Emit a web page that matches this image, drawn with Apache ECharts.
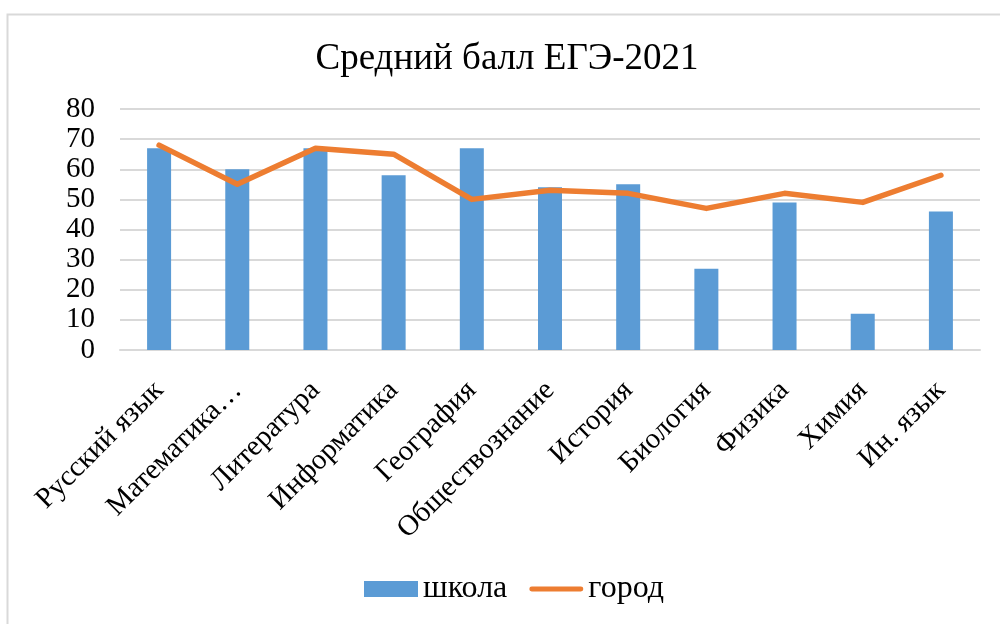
<!DOCTYPE html>
<html>
<head>
<meta charset="utf-8">
<script src="https://cdn.jsdelivr.net/npm/echarts@6/dist/echarts.min.js"></script>
<style>
html,body{margin:0;padding:0;background:#fff;}
#main{width:1000px;height:624px;}
</style>
</head>
<body>
<div id="main"></div>
<script>
const categories = ['Русский язык','Математика…','Литература','Информатика','География','Обществознание','История','Биология','Физика','Химия','Ин. язык'];
const schoolValues = [67, 60, 67, 58, 67, 54, 55, 27, 49, 12, 46];
const cityValues = [68, 55, 67, 65, 50, 53, 52, 47, 52, 49, 58];
const yTicks = [0, 10, 20, 30, 40, 50, 60, 70, 80];

const FONT = '"Liberation Serif", "Times New Roman", serif';
const chart = echarts.init(document.getElementById('main'), null, {renderer: 'canvas'});
chart.setOption({
  animation: false,
  backgroundColor: '#ffffff',
  graphic: [{
    type: 'rect', left: 5, top: 12, z: -1,
    shape: {width: 1100, height: 700},
    style: {fill: 'none', stroke: '#d9d9d9', lineWidth: 2}
  }],
  title: {
    text: 'Средний балл ЕГЭ-2021',
    left: 502, top: 36, textAlign: 'center',
    textStyle: {fontFamily: FONT, fontSize: 37, fontWeight: 'normal', color: '#000'}
  },
  legend: {
    bottom: 14, left: 359,
    itemWidth: 54, itemHeight: 16, itemGap: 22,
    textStyle: {fontFamily: FONT, fontSize: 32, color: '#000'},
    data: [
      {name: 'школа', icon: 'rect'},
      {name: 'город', icon: 'path://M2.5,0 L53.5,0 A2.5,2.5 0 0 1 53.5,5 L2.5,5 A2.5,2.5 0 0 1 2.5,0 Z'}
    ]
  },
  grid: {left: 120, right: 20, top: 109, bottom: 274, containLabel: false},
  xAxis: {
    type: 'category', data: categories,
    axisTick: {show: false},
    axisLine: {show: true, lineStyle: {color: '#d9d9d9', width: 2}},
    axisLabel: {rotate: 45, interval: 0, margin: 36, fontFamily: FONT, fontSize: 29, color: '#000'}
  },
  yAxis: {
    type: 'value', min: yTicks[0], max: yTicks[yTicks.length-1], interval: 10,
    axisLine: {show: false}, axisTick: {show: false},
    splitLine: {lineStyle: {color: '#d9d9d9', width: 2}},
    axisLabel: {margin: 25, fontFamily: FONT, fontSize: 29, color: '#000'}
  },
  series: [{
    name: 'школа', type: 'bar', data: schoolValues, barWidth: 24,
    itemStyle: {color: '#5B9BD5'}
  }, {
    name: 'город', type: 'line', data: cityValues, symbol: 'none',
    lineStyle: {color: '#ED7D31', width: 5.5, cap: 'round', join: 'round'},
    itemStyle: {color: '#ED7D31'}
  }]
});
</script>
</body>
</html>
